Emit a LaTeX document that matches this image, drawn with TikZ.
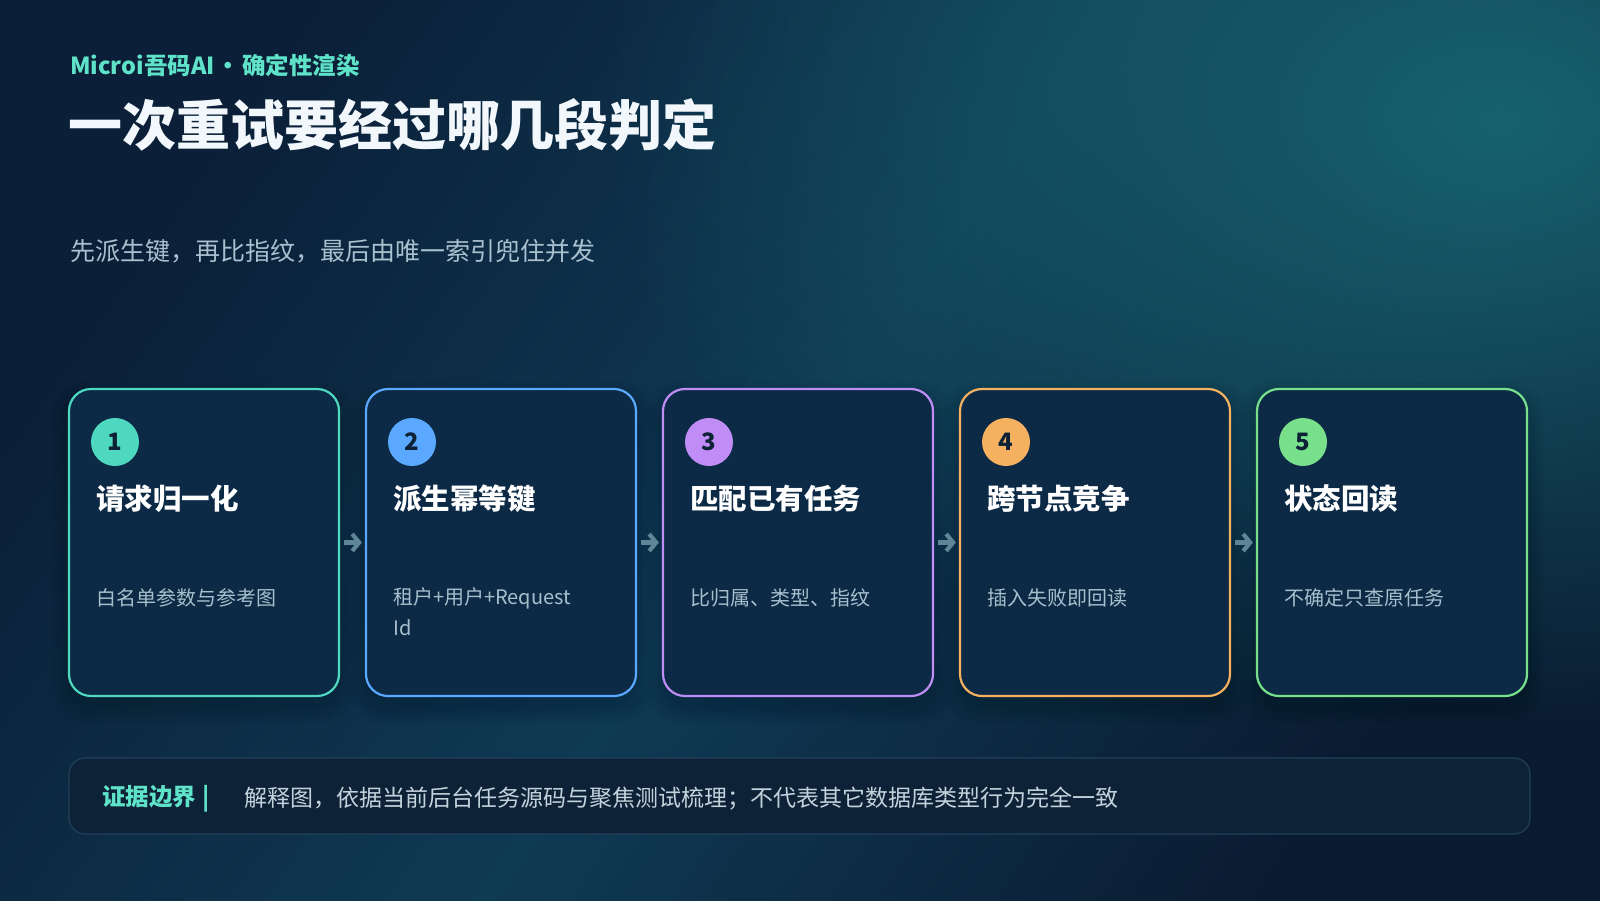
\documentclass[tikz,border=0pt]{standalone}
\usepackage{fontspec}
\setmainfont{Noto Sans CJK SC}
\usetikzlibrary{arrows.meta,fadings}
\definecolor{bgA}{HTML}{0B1F38}
\definecolor{bgB}{HTML}{0F3A54}
\definecolor{bgC}{HTML}{0A1A30}
\definecolor{glowc}{HTML}{17626F}
\definecolor{cardbg}{HTML}{0C2A45}
\definecolor{accent}{HTML}{5EE3C8}
\definecolor{subtext}{HTML}{A9C1CF}
\definecolor{desctext}{HTML}{A7BFCC}
\definecolor{numtext}{HTML}{0D2236}
\definecolor{arrowc}{HTML}{5D8697}
\definecolor{cA}{HTML}{4FD8C0}
\definecolor{cB}{HTML}{5AA8FF}
\definecolor{cC}{HTML}{C08CF5}
\definecolor{cD}{HTML}{F5B060}
\definecolor{cE}{HTML}{78E08A}
\definecolor{barbg}{HTML}{0D2237}
\definecolor{barline}{HTML}{21405A}
\definecolor{bartext}{HTML}{C3D3DC}
\definecolor{titlec}{HTML}{F2F7FB}
\pgfdeclarehorizontalshading{bgsh}{100bp}{color(0bp)=(bgA); color(25bp)=(bgA); color(50bp)=(bgB); color(75bp)=(bgC); color(100bp)=(bgC)}
\tikzfading[name=glowfade, inner color=transparent!0, outer color=transparent!100]
\begin{document}
\begin{tikzpicture}[x=1pt,y=-1pt,
  cardbox/.style={rounded corners=22pt, line width=2.2pt, fill=cardbg, minimum width=270pt, minimum height=307pt, inner sep=0pt},
  cardshadow/.style={rounded corners=30pt, fill=black, opacity=0.025},
  badge/.style={circle, minimum size=48pt, inner sep=0pt, font=\bfseries\fontsize{24}{24}\selectfont, text=numtext},
  ctitle/.style={anchor=west, inner sep=0pt, font=\bfseries\fontsize{28.5}{28.5}\selectfont, text=white},
  cdesc/.style={anchor=west, inner sep=0pt, font=\fontsize{20}{20}\selectfont, text=desctext},
  flow/.style={line width=4.2pt, draw=arrowc, -{Straight Barb[length=7pt,width=17pt]}},
  plain/.style={anchor=west, inner sep=0pt}]
\useasboundingbox (0,0) rectangle (1600,900);
\shade[shading=bgsh, shading angle=-35] (0,0) rectangle (1600,900);
\fill[glowc, path fading=glowfade] (1500,120) ellipse (900 and 620);

% header texts
\node[plain, font=\bfseries\fontsize{23.5}{23.5}\selectfont, text=accent] (kicker) at (70,65) {Microi吾码AI\hspace{2pt}•\hspace{2pt}确定性渲染};
\node[plain, font=\bfseries\fontsize{54}{54}\selectfont, text=titlec] (title) at (68,125) {一次重试要经过哪几段判定};
\node[plain, font=\fontsize{25}{25}\selectfont, text=subtext] (subtitle) at (70,251) {先派生键，再比指纹，最后由唯一索引兜住并发};

% cards
\foreach \i/\col/\ttl/\dsc in {0/cA/请求归一化/白名单参数与参考图, 1/cB/派生幂等键/租户+用户+Request, 2/cC/匹配已有任务/比归属、类型、指纹, 3/cD/跨节点竞争/插入失败即回读, 4/cE/状态回读/不确定只查原任务}{
  \pgfmathsetmacro{\xo}{69+297*\i}
  \foreach \s in {2,5,8,11,14,17}{
    \fill[cardshadow] (\xo-\s,389-\s+10) rectangle (\xo+270+\s,696+\s+10);
  }
}
\foreach \i/\col/\ttl/\dsc in {0/cA/请求归一化/白名单参数与参考图, 1/cB/派生幂等键/租户+用户+Request, 2/cC/匹配已有任务/比归属、类型、指纹, 3/cD/跨节点竞争/插入失败即回读, 4/cE/状态回读/不确定只查原任务}{
  \pgfmathsetmacro{\xo}{69+297*\i}
  \node[cardbox, draw=\col] (card\i) at (\xo+135,542.5) {};
  \node[badge, fill=\col] (badge\i) at (\xo+46,442) {\the\numexpr\i+1\relax};
  \node[ctitle] (title\i) at (\xo+27,499) {\ttl};
  \node[cdesc] (desc\i) at (\xo+27,598) {\dsc};
}
\node[cdesc] (desc1b) at (69+297+27,628) {Id};

\foreach \i/\j in {0/1,1/2,2/3,3/4}{
  \draw[flow, shorten <=4pt, shorten >=3pt] (card\i.east) -- (card\j.west);
}

% bottom bar
\node[draw=barline, line width=1.2pt, fill=barbg, rounded corners=16pt, minimum width=1461pt, minimum height=76pt, inner sep=0pt] (bar) at (799.5,796) {};
\node[plain, font=\bfseries\fontsize{23.5}{23.5}\selectfont, text=accent] (barlabel) at (102,799) {证据边界\hspace{6pt}|};
\node[plain, font=\fontsize{23}{23}\selectfont, text=bartext] (bartxt) at (244,799) {解释图，依据当前后台任务源码与聚焦测试梳理；不代表其它数据库类型行为完全一致};
\end{tikzpicture}
\end{document}
